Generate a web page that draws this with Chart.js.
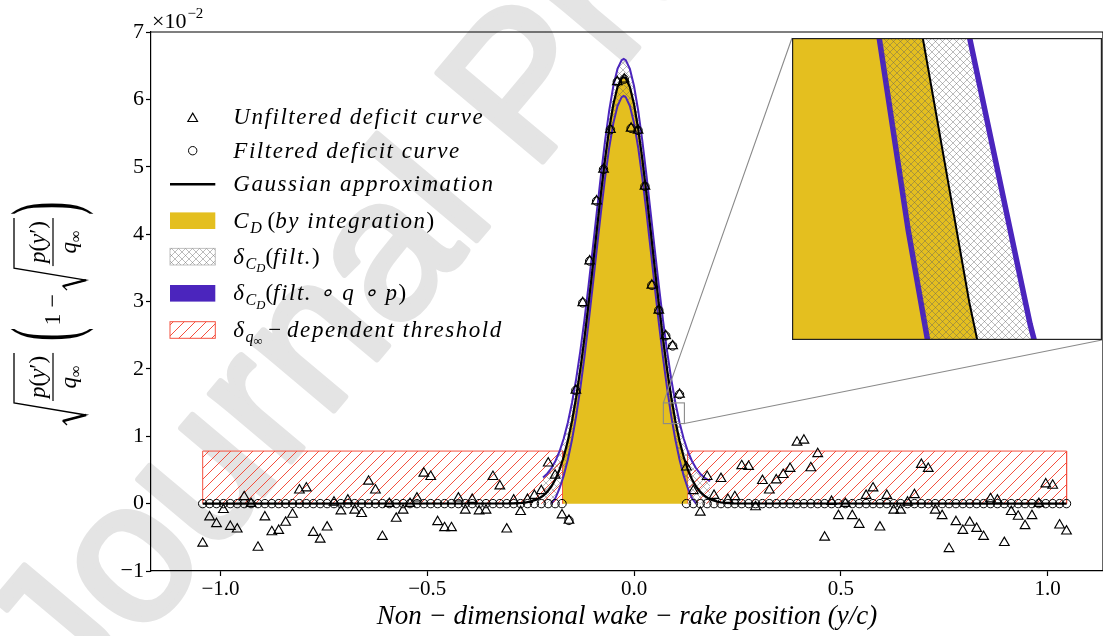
<!DOCTYPE html>
<html>
<head>
<meta charset="utf-8">
<script src="https://cdn.jsdelivr.net/npm/chart.js@4.4.1/dist/chart.umd.min.js"></script>
<style>
html,body{margin:0;padding:0;background:#fff;}
#wrap{position:relative;width:1103px;height:636px;overflow:hidden;}
#main{position:absolute;left:0;top:0;}
#insetBox{position:absolute;left:792px;top:38px;width:310px;height:302px;background:#fff;}
</style>
</head>
<body>
<div id="wrap">
<canvas id="main" width="1103" height="636"></canvas>
<div id="insetBox"><canvas id="inset" width="310" height="302"></canvas></div>
</div>
<script>
// ---------------- DATA (y values in units of 1e-2) ----------------
const xPos = [-1.0430,-1.0263,-1.0096,-0.9929,-0.9762,-0.9595,-0.9427,-0.9260,-0.9093,-0.8926,
-0.8759,-0.8592,-0.8425,-0.8258,-0.8091,-0.7924,-0.7756,-0.7589,-0.7422,-0.7255,
-0.7088,-0.6921,-0.6754,-0.6587,-0.6420,-0.6253,-0.6085,-0.5918,-0.5751,-0.5584,
-0.5417,-0.5250,-0.5083,-0.4916,-0.4749,-0.4582,-0.4414,-0.4247,-0.4080,-0.3913,
-0.3746,-0.3579,-0.3412,-0.3245,-0.3078,-0.2911,-0.2743,-0.2576,-0.2409,-0.2242,
-0.2075,-0.1908,-0.1741,-0.1574,-0.1407,-0.1240,-0.1072,-0.0905,-0.0738,-0.0571,
-0.0404,-0.0237,-0.0070,0.0097,0.0264,0.0431,0.0599,0.0766,0.0933,0.1100,
0.1267,0.1434,0.1601,0.1768,0.1935,0.2102,0.2270,0.2437,0.2604,0.2771,
0.2938,0.3105,0.3272,0.3439,0.3606,0.3773,0.3941,0.4108,0.4275,0.4442,
0.4609,0.4776,0.4943,0.5110,0.5277,0.5444,0.5612,0.5779,0.5946,0.6113,
0.6280,0.6447,0.6614,0.6781,0.6948,0.7115,0.7283,0.7450,0.7617,0.7784,
0.7951,0.8118,0.8285,0.8452,0.8619,0.8786,0.8954,0.9121,0.9288,0.9455,
0.9622,0.9789,0.9956,1.0123,1.0290,1.0457];

const unfiltered = [-0.59,-0.20,-0.30,-0.09,-0.34,-0.38,0.10,0.00,-0.65,-0.20,
-0.42,-0.40,-0.28,-0.16,0.20,0.23,-0.43,-0.53,-0.35,0.02,
-0.11,0.05,-0.10,-0.15,0.33,0.20,-0.49,0.00,-0.22,-0.10,
0.00,0.08,0.45,0.40,-0.27,-0.36,-0.36,0.08,-0.10,0.06,
-0.11,-0.10,0.40,0.26,-0.38,0.05,-0.12,0.06,0.12,0.19,
0.60,0.42,-0.17,-0.25,1.68,2.98,3.60,4.49,4.96,5.55,
6.26,6.30,5.57,5.54,4.71,3.24,2.87,2.49,2.34,1.62,
0.54,0.19,-0.13,0.40,0.12,0.37,0.06,0.10,0.56,0.55,
-0.05,0.34,0.20,0.35,0.43,0.52,0.91,0.94,0.53,0.74,
-0.50,0.03,-0.18,0.00,-0.18,-0.31,0.12,0.23,-0.35,0.12,
-0.10,-0.10,0.02,0.13,0.58,0.52,-0.10,-0.18,-0.67,-0.27,
-0.40,-0.28,-0.37,-0.49,0.07,0.05,-0.58,-0.12,-0.19,-0.33,
-0.18,0.00,0.29,0.27,-0.32,-0.41];

const filtered = [0,0,0,0,0,0,0,0,0,0,
0,0,0,0,0,0,0,0,0,0,
0,0,0,0,0,0,0,0,0,0,
0,0,0,0,0,0,0,0,0,0,
0,0,0,0,0,0,0,0,0,0,
0,0,0,-0.25,1.68,2.98,3.60,4.49,4.96,5.55,
6.26,6.30,5.57,5.54,4.71,3.24,2.87,2.49,2.34,1.62,
0,0,0,0,0,0,0,0,0,0,
0,0,0,0,0,0,0,0,0,0,
0,0,0,0,0,0,0,0,0,0,
0,0,0,0,0,0,0,0,0,0,
0,0,0,0,0,0,0,0,0,0,
0,0,0,0,0,0];

const gaussX = [-1.043,-0.29,-0.27,-0.26,-0.25,-0.24,-0.23,-0.22,-0.21,-0.20,-0.19,-0.18,-0.172,-0.17,
-0.16,-0.15,-0.14,-0.13,-0.12,-0.11,-0.10,-0.09,-0.08,-0.07,-0.06,-0.05,-0.04,-0.03,-0.025,
-0.02,-0.01,0.00,0.01,0.02,0.03,0.04,0.05,0.06,0.07,0.08,0.09,0.10,0.11,0.12,0.1295,0.13,
0.14,0.15,0.16,0.17,0.18,0.19,0.20,0.21,0.22,0.24,1.046];
const gaussY = [0,0.004,0.0116,0.0192,0.0311,0.0494,0.0767,0.1167,0.174,0.2539,0.3629,0.5078,0.6544,0.6958,
0.9336,1.2266,1.5785,1.9887,2.4535,2.9641,3.5063,4.0616,4.6073,5.1174,5.5658,5.9279,6.1822,6.3134,6.33,
6.3134,6.1822,5.9279,5.5658,5.1174,4.6073,4.0616,3.5063,2.9641,2.4535,1.9887,1.5785,1.2266,0.9336,0.6958,0.5161,0.5078,
0.3629,0.2539,0.174,0.1167,0.0767,0.0494,0.0311,0.0192,0.0116,0.004,0];

const bandX = [-0.22,-0.21,-0.20,-0.19,-0.18,-0.17,-0.16,-0.15,-0.14,-0.13,-0.12,-0.11,-0.10,-0.09,-0.08,
-0.07,-0.06,-0.05,-0.04,-0.03,-0.025,-0.02,-0.01,0.00,0.01,0.02,0.03,0.04,0.05,0.06,0.07,0.08,
0.09,0.10,0.11,0.12,0.13,0.14,0.15,0.16,0.17,0.18,0.184];
const bandUpper = [0.387,0.444,0.524,0.633,0.778,0.966,1.204,1.497,1.849,2.259,2.724,3.234,3.776,4.332,4.877,
5.387,5.836,6.198,6.452,6.583,6.600,6.583,6.452,6.198,5.836,5.387,4.877,4.332,3.776,3.234,2.724,2.259,
1.849,1.497,1.204,0.966,0.778,0.633,0.524,0.444,0.387,0.347,0.334];
const bandLower = [0,0,0,0.083,0.228,0.416,0.654,0.947,1.299,1.709,2.174,2.684,3.226,3.782,4.327,
4.837,5.286,5.648,5.902,6.033,6.050,6.033,5.902,5.648,5.286,4.837,4.327,3.782,3.226,2.684,2.174,1.709,
1.299,0.947,0.654,0.416,0.228,0.083,0,0,0,0,0];

const goldRange = [-0.172, 0.1295];
const thrLeft = [-1.043, -0.172];
const thrRight = [0.1295, 1.046];
const thrHeight = 0.78;

const xTicks = [-1.0, -0.5, 0.0, 0.5, 1.0];
const yTicks = [-1, 0, 1, 2, 3, 4, 5, 6, 7];
const xRange = [-1.168, 1.134];
const yRange = [-1, 7];
const insetX = [0.0709, 0.1218];
const insetY = [1.188, 1.495];

const legendLabels = [
  [['Unfiltered deficit curve','i']],
  [['Filtered deficit curve','i']],
  [['Gaussian approximation','i']],
  [['C','i'],['D','i1'],[' (','n'],['by integration','i'],[')','n']],
  [['δ','i'],['C','i1'],['D','i2'],['(','n'],['filt.','i'],[')','n']],
  [['δ','i'],['C','i1'],['D','i2'],['(','n'],['filt. ∘ q ∘ p','i'],[')','n']],
  [['δ','i'],['q','i1'],['∞','n2'],[' − ','n'],['dependent threshold','i']]
];
const xTitle = 'Non − dimensional wake − rake position (y/c)';

// ---------------- STYLE ----------------
const PURPLE = '#4b25bd';
const GOLD = '#e4bf1f';
const RED = '#f4503f';
const SERIF = '"Liberation Serif", "Times New Roman", serif';

function makeHatch(ctx, color, s, lw, cross) {
  const c = document.createElement('canvas'); c.width = s; c.height = s;
  const g = c.getContext('2d');
  g.strokeStyle = color; g.lineWidth = lw;
  g.beginPath();
  g.moveTo(-1, s + 1); g.lineTo(s + 1, -1);
  g.moveTo(-1, 1); g.lineTo(1, -1);
  g.moveTo(s - 1, s + 1); g.lineTo(s + 1, s - 1);
  if (cross) {
    g.moveTo(-1, -1); g.lineTo(s + 1, s + 1);
    g.moveTo(s - 1, -1); g.lineTo(s + 1, 1);
    g.moveTo(-1, s - 1); g.lineTo(1, s + 1);
  }
  g.stroke();
  return ctx.createPattern(c, 'repeat');
}

const xy = (xs, ys) => xs.map((x, i) => ({x: x, y: ys[i]}));

function curveDatasets(ctx, purpleWidth, blackWidth) {
  const cross = makeHatch(ctx, 'rgba(95,95,95,0.42)', 7, 1, true);
  return [
    {label: 'Gaussian approximation', data: xy(gaussX, gaussY), borderColor: '#000', borderWidth: blackWidth,
     pointRadius: 0, fill: false, order: 2},
    {label: 'delta CD filt q p upper', data: xy(bandX, bandUpper), borderColor: PURPLE, borderWidth: purpleWidth,
     pointRadius: 0, fill: '+1', backgroundColor: cross, order: 3},
    {label: 'delta CD filt q p lower', data: xy(bandX, bandLower), borderColor: PURPLE, borderWidth: purpleWidth,
     pointRadius: 0, fill: false, order: 4,
     segment: {borderColor: s => (s.p0.parsed.y <= 0 && s.p1.parsed.y <= 0) ? 'rgba(0,0,0,0)' : PURPLE}},
    {label: 'CD (by integration)', data: xy(gaussX, gaussY).filter(p => p.x >= goldRange[0] && p.x <= goldRange[1]),
     borderWidth: 0, pointRadius: 0, fill: 'origin', backgroundColor: GOLD, order: 6}
  ];
}

const mainCanvas = document.getElementById('main');
const mctx = mainCanvas.getContext('2d');
const redHatch = makeHatch(mctx, RED, 11, 1, false);

const rectFill = r => [{x: r[0], y: thrHeight}, {x: r[1], y: thrHeight}];
const rectEdge = r => [{x: r[0], y: 0}, {x: r[0], y: thrHeight}, {x: r[1], y: thrHeight}, {x: r[1], y: 0}];

const mainDatasets = [
  {label: 'Unfiltered deficit curve', data: xy(xPos, unfiltered), showLine: false, pointStyle: 'triangle',
   pointRadius: 5.6, pointBorderWidth: 1.15, pointBorderColor: '#000', pointBackgroundColor: 'rgba(0,0,0,0)', order: 0},
  {label: 'Filtered deficit curve', data: xy(xPos, filtered), showLine: false, pointStyle: 'circle',
   pointRadius: 4.2, pointBorderWidth: 1, pointBorderColor: '#000', pointBackgroundColor: 'rgba(0,0,0,0)', order: 1},
  ...curveDatasets(mctx, 2, 2.2),
  {label: 'threshold left', data: rectFill(thrLeft), borderWidth: 0, pointRadius: 0, fill: 'origin', backgroundColor: redHatch, order: 8},
  {label: 'threshold right', data: rectFill(thrRight), borderWidth: 0, pointRadius: 0, fill: 'origin', backgroundColor: redHatch, order: 8},
  {label: 'threshold left edge', data: rectEdge(thrLeft), borderColor: RED, borderWidth: 1, pointRadius: 0, fill: false, order: 7},
  {label: 'threshold right edge', data: rectEdge(thrRight), borderColor: RED, borderWidth: 1, pointRadius: 0, fill: false, order: 7}
];

// ---------------- PLUGINS ----------------
const watermark = {
  id: 'watermark',
  beforeDraw(chart) {
    const c = chart.ctx;
    c.save();
    c.translate(75, 719);
    c.rotate(-50 * Math.PI / 180);
    c.font = '200px "Liberation Sans", Arial, sans-serif';
    c.fillStyle = '#e4e4e4';
    c.strokeStyle = '#e4e4e4';
    c.lineWidth = 6;
    c.lineJoin = 'round';
    c.fillText('Journal Pre-proof', 0, 0);
    c.strokeText('Journal Pre-proof', 0, 0);
    c.restore();
  }
};

function drawParts(c, x, base, parts, size, spacing) {
  for (const [t, st] of parts) {
    const lvl = st.length > 1 ? +st[1] : 0;
    const sz = lvl === 0 ? size : (lvl === 1 ? size * 0.7 : size * 0.55);
    const dy = lvl === 0 ? 0 : (lvl === 1 ? size * 0.22 : size * 0.36);
    c.font = (st[0] === 'i' ? 'italic ' : '') + sz + 'px ' + SERIF;
    c.letterSpacing = (lvl === 0 && st[0] === 'i') ? spacing + 'px' : '0px';
    c.fillText(t, x, base + dy);
    x += c.measureText(t).width;
  }
  c.letterSpacing = '0px';
  return x;
}

function triangle(c, x, y, r) {
  c.beginPath();
  c.moveTo(x, y - r);
  c.lineTo(x + r * Math.sin(2 * Math.PI / 3), y - r * Math.cos(2 * Math.PI / 3));
  c.lineTo(x + r * Math.sin(4 * Math.PI / 3), y - r * Math.cos(4 * Math.PI / 3));
  c.closePath();
  c.stroke();
}

function sqrtFrac(c, u0) {
  const fs = 23;
  const num = [['p','i'],['(','n'],['y','i'],['′','n'],[')','n']];
  const den = [['q','i'],['∞','n1']];
  const w = parts => { let s = 0; for (const [t, st] of parts) { const sz = st.length > 1 ? fs * 0.7 : fs; c.font = (st[0]==='i'?'italic ':'') + sz + 'px ' + SERIF; s += c.measureText(t).width; } return s; };
  const numW = w(num), denW = w(den);
  const fracW = Math.max(numW, denW) + 6;
  const hook = 22;
  const fx = u0 + hook + 2;
  c.lineJoin = 'miter';
  c.lineWidth = 1.3;
  c.beginPath();
  c.moveTo(u0, 15);
  c.lineTo(u0 + 4, 11);
  c.lineTo(u0 + 10, 34);
  c.lineTo(u0 + hook, -38);
  c.lineTo(fx + fracW, -38);
  c.stroke();
  c.lineWidth = 2.4;
  c.beginPath(); c.moveTo(u0 + 4, 11); c.lineTo(u0 + 10, 34); c.stroke();
  c.fillRect(fx, 0.4, fracW, 1.2);
  drawParts(c, fx + (fracW - numW) / 2, -7, num, fs, 0);
  drawParts(c, fx + (fracW - denW) / 2, 24, den, fs, 0);
  return fx + fracW;
}

function centeredGlyph(c, t, u, font) {
  c.font = font;
  const m = c.measureText(t);
  const base = (m.actualBoundingBoxAscent - m.actualBoundingBoxDescent) / 2;
  c.fillText(t, u, base);
  return u + m.width;
}

const decorations = {
  id: 'decorations',
  afterDatasetsDraw(chart) {
    const c = chart.ctx, xs = chart.scales.x, ys = chart.scales.y;
    const bx0 = xs.getPixelForValue(insetX[0]), bx1 = xs.getPixelForValue(insetX[1]);
    const by0 = ys.getPixelForValue(insetY[1]), by1 = ys.getPixelForValue(insetY[0]);
    c.save();
    c.strokeStyle = '#8a8a8a'; c.lineWidth = 1.1;
    c.strokeRect(bx0, by0, bx1 - bx0, by1 - by0);
    c.beginPath();
    c.moveTo(bx0, by0); c.lineTo(792, 38);
    c.moveTo(bx1, by1); c.lineTo(1102, 340);
    c.stroke();
    c.restore();
  },
  afterDraw(chart) {
    const c = chart.ctx, a = chart.chartArea;
    c.save();
    // top and right spines
    c.strokeStyle = '#000'; c.lineWidth = 1.2;
    c.beginPath(); c.moveTo(a.left, a.top); c.lineTo(a.right, a.top); c.lineTo(a.right, a.bottom); c.stroke();
    // offset text
    c.fillStyle = '#000';
    c.textBaseline = 'alphabetic';
    c.font = '22px ' + SERIF;
    c.fillText('×10', 152, 28);
    const w = c.measureText('×10').width;
    c.font = '15px ' + SERIF;
    c.fillText('−2', 152 + w + 1, 18);

    // legend
    const rowY = [117.3, 150.7, 184.3, 220.7, 256.7, 293.3, 330];
    const hx0 = 170, hx1 = 215.3, hh = 16.6, mx = 192.7, tx = 233.3;
    c.strokeStyle = '#000';
    c.lineWidth = 1.15; triangle(c, mx, rowY[0] + 1.4, 5.6);
    c.beginPath(); c.arc(mx, rowY[1], 4.2, 0, Math.PI * 2); c.lineWidth = 1; c.stroke();
    c.lineWidth = 2.6; c.beginPath(); c.moveTo(hx0, rowY[2]); c.lineTo(hx1, rowY[2]); c.stroke();
    c.fillStyle = GOLD; c.fillRect(hx0, rowY[3] - hh / 2, hx1 - hx0, hh);
    c.fillStyle = makeHatch(c, 'rgba(95,95,95,0.42)', 7, 1, true); c.fillRect(hx0, rowY[4] - hh / 2, hx1 - hx0, hh);
    c.strokeStyle = 'rgba(150,150,150,0.6)'; c.lineWidth = 1; c.strokeRect(hx0, rowY[4] - hh / 2, hx1 - hx0, hh);
    c.fillStyle = PURPLE; c.fillRect(hx0, rowY[5] - hh / 2, hx1 - hx0, hh);
    c.fillStyle = redHatch; c.fillRect(hx0, rowY[6] - hh / 2, hx1 - hx0, hh);
    c.strokeStyle = RED; c.strokeRect(hx0, rowY[6] - hh / 2, hx1 - hx0, hh);
    c.fillStyle = '#000';
    legendLabels.forEach((parts, k) => drawParts(c, tx, rowY[k] + 7, parts, 23, 1.55));

    // y-axis label (rotated math)
    c.save();
    c.translate(52, 425);
    c.rotate(-Math.PI / 2);
    c.fillStyle = '#000'; c.strokeStyle = '#000';
    let u = sqrtFrac(c, 0);
    u += 12;
    c.save(); c.translate(u, 0); c.scale(1, 2.3);
    const pw = centeredGlyph(c, '(', 0, '40px ' + SERIF);
    c.restore();
    u += pw + 2;
    u = centeredGlyph(c, '1', u, '24px ' + SERIF);
    u += 6;
    u = centeredGlyph(c, '−', u, '24px ' + SERIF);
    u += 4;
    u = sqrtFrac(c, u);
    u += 3;
    c.save(); c.translate(u, 0); c.scale(1, 2.3);
    centeredGlyph(c, ')', 0, '40px ' + SERIF);
    c.restore();
    c.restore();
    c.restore();
  }
};

Chart.defaults.font.family = SERIF;

new Chart(mainCanvas, {
  type: 'line',
  data: {datasets: mainDatasets},
  options: {
    responsive: false, animation: false, events: [], devicePixelRatio: 1,
    layout: {padding: {top: 32, left: 0, right: 0, bottom: 0}, autoPadding: false},
    elements: {line: {tension: 0}},
    plugins: {legend: {display: false}, tooltip: {enabled: false}},
    scales: {
      x: {
        type: 'linear', min: xRange[0], max: xRange[1],
        afterBuildTicks: s => { s.ticks = xTicks.map(v => ({value: v})); },
        afterFit: s => { s.height = 65; },
        grid: {drawOnChartArea: false, drawTicks: true, tickLength: 5, tickColor: '#000', tickWidth: 1.2},
        border: {display: true, color: '#000', width: 1.2},
        ticks: {color: '#000', font: {family: SERIF, size: 21}, padding: 1, maxRotation: 0, autoSkip: false,
          callback: v => (v < 0 ? '−' : '') + Math.abs(v).toFixed(1)},
        title: {display: true, text: xTitle, color: '#000', font: {family: SERIF, size: 27, style: 'italic'},
          padding: {top: 0, bottom: 3}}
      },
      y: {
        type: 'linear', min: yRange[0], max: yRange[1],
        afterBuildTicks: s => { s.ticks = yTicks.map(v => ({value: v})); },
        afterFit: s => { s.width = 151; },
        grid: {drawOnChartArea: false, drawTicks: true, tickLength: 5, tickColor: '#000', tickWidth: 1.2},
        border: {display: true, color: '#000', width: 1.2},
        ticks: {color: '#000', font: {family: SERIF, size: 22}, padding: 2, autoSkip: false,
          callback: v => (v < 0 ? '−' : '') + Math.abs(v)}
      }
    }
  },
  plugins: [watermark, decorations]
});

// ---------------- INSET ----------------
const insetCanvas = document.getElementById('inset');
const ictx = insetCanvas.getContext('2d');
const insetFrame = {
  id: 'insetFrame',
  afterDraw(chart) {
    const c = chart.ctx;
    c.save(); c.strokeStyle = '#222'; c.lineWidth = 1.2;
    c.strokeRect(0.6, 0.6, chart.width - 1.2, chart.height - 1.2);
    c.restore();
  }
};
new Chart(insetCanvas, {
  type: 'line',
  data: {datasets: curveDatasets(ictx, 5.5, 2)},
  options: {
    responsive: false, animation: false, events: [], devicePixelRatio: 1,
    layout: {padding: 0, autoPadding: false},
    elements: {line: {tension: 0}},
    plugins: {legend: {display: false}, tooltip: {enabled: false}},
    scales: {
      x: {type: 'linear', display: false, min: insetX[0], max: insetX[1]},
      y: {type: 'linear', display: false, min: insetY[0], max: insetY[1]}
    }
  },
  plugins: [insetFrame]
});
</script>
</body>
</html>
